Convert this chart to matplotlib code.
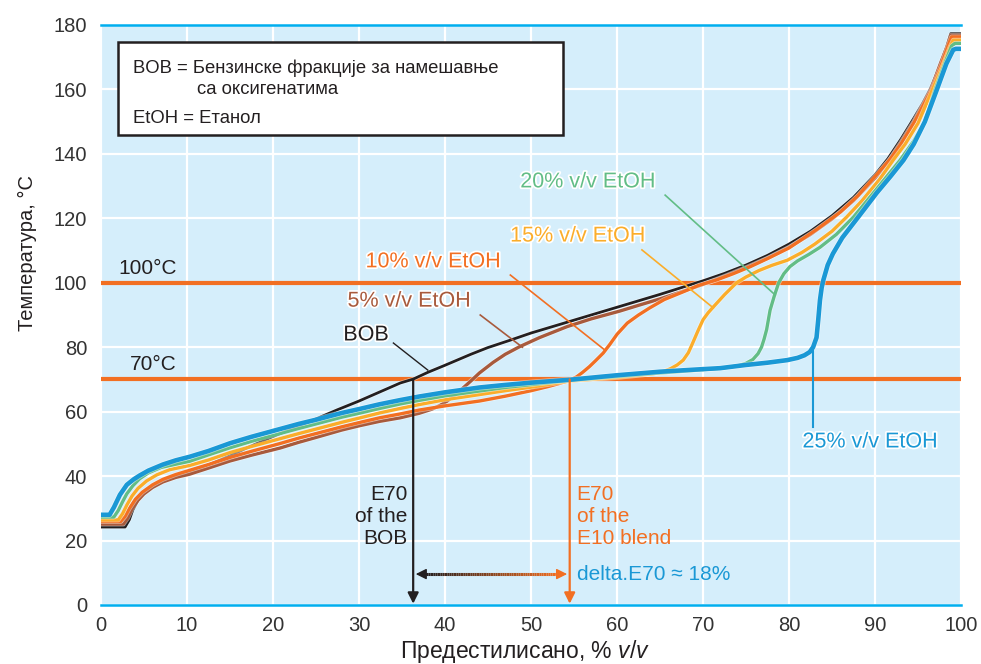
import matplotlib
matplotlib.use("Agg")
import matplotlib.pyplot as plt
import matplotlib.patheffects as pe
import numpy as np
from matplotlib.collections import LineCollection
from matplotlib.colors import to_rgb
from matplotlib.patches import Rectangle

plt.rcParams['font.family'] = ['Liberation Sans', 'DejaVu Sans']
plt.rcParams['mathtext.fontset'] = 'custom'
plt.rcParams['mathtext.it'] = 'Liberation Sans:italic'
plt.rcParams['mathtext.rm'] = 'Liberation Sans'

# distillation curves: % evaporated (x) vs temperature in °C (t)
bob_x = [0, 2.8, 3.3, 3.7, 4.3, 4.9, 6, 7.2, 8.7, 10.3, 12.5, 15, 17, 20, 22.5, 24.7, 27.5, 30, 32.4, 34.8,
         36.3, 38, 40, 43, 45, 47.6, 50, 52.5, 55, 57.5, 60, 62.5, 65, 67.5, 70, 72.5, 75, 77.5, 80, 82.5,
         85, 87.5, 90, 91.5, 93, 94.5, 95.5, 96.4, 97.5, 98.3, 98.8, 100]
bob_t = [24.2, 24.2, 26.5, 29.5, 32.5, 34.7, 37, 38.4, 39.8, 41.2, 43.5, 46.3, 48.8, 52.3, 55, 57.4, 60.6, 63.3, 66.1, 68.9,
         70.1, 72.2, 74.4, 77.8, 79.9, 82.2, 84.4, 86.4, 88.4, 90.4, 92.4, 94.4, 96.4, 98.5, 100.6, 102.9, 105.5, 108.5, 112, 116,
         120.8, 126.5, 133.5, 138.5, 144.5, 151, 155.5, 160, 167, 173, 177.3, 177.3]

e5_x = [0, 2.6, 3.1, 3.6, 4.3, 5, 6, 7.2, 8.7, 10.3, 12.5, 15, 17.5, 20.8, 23, 25, 28, 30, 32.4, 34.8,
        37, 38.5, 39.4, 40.2, 41, 41.7, 43, 44, 45.6, 47, 48.7, 51, 54.2, 57, 60.3, 62.5, 65, 67.5, 70, 72.5,
        75, 77.5, 80, 82.5, 85, 87.5, 90, 91.6, 93, 94.5, 95.5, 96.5, 97.6, 98.4, 98.8, 100]
e5_t = [25.1, 25.1, 27, 29.8, 32.5, 34.5, 36.5, 38.2, 39.6, 40.6, 42.5, 44.7, 46.5, 48.7, 50.5, 52, 54.3, 55.6, 57, 58.1,
        59.5, 60.8, 61.9, 63.2, 64.8, 66.4, 69.5, 72, 75.3, 77.8, 80.2, 83, 86.4, 88.8, 91.2, 93, 95, 97.2, 99.5, 102,
        104.7, 107.6, 111, 115, 119.8, 125.5, 132.5, 137.8, 143.5, 150, 155, 160, 168, 173.5, 176.8, 176.8]

e10_x = [0, 2.3, 2.8, 3.3, 4, 4.8, 6, 7.2, 8.7, 10.3, 12.5, 15, 17.5, 20.8, 23, 25, 28, 30, 32.4, 34.8,
         37, 40, 44, 47, 50, 52, 53.5, 54.5, 55.3, 56, 56.8, 57.5, 58.4, 59.2, 60, 61.2, 62.5, 63.8, 65.5, 67.7,
         69.5, 71.6, 73.5, 75.5, 77.5, 80, 83.2, 86, 88, 90, 91.8, 93, 94.5, 95.5, 96.6, 97.7, 98.5, 98.9, 100]
e10_t = [25.9, 25.9, 27.5, 30, 32.8, 35, 37.3, 39, 40.5, 41.8, 43.6, 45.8, 47.7, 50.1, 51.8, 53.2, 55.3, 56.6, 58.1, 59.3,
         60.5, 61.8, 63.3, 64.8, 66.5, 67.8, 68.9, 69.8, 70.8, 72.2, 74, 75.8, 78.2, 81, 84, 87.5, 90, 92.2, 94.8, 97.2,
         99.2, 100.9, 102.8, 105, 107.5, 110.8, 116.5, 122, 127, 133, 138.5, 143, 149.5, 154.5, 160, 167.5, 173.5, 176.3, 176.3]

e15_x = [0, 2.0, 2.5, 3.0, 3.6, 4.3, 5.3, 6.5, 8, 10.3, 12.5, 15, 17.5, 20.8, 23, 25, 28, 30, 32.4, 34.8,
         37, 40, 44, 47, 50, 54.5, 57, 60, 63, 64.5, 65.4, 66.2, 67, 67.7, 68.3, 68.8, 69.4, 70, 70.6, 71.2,
         72.5, 73.9, 75, 76.5, 78, 79.8, 81.5, 83, 85, 86.7, 88.5, 90.5, 92.1, 93.5, 95, 96.7, 97.9, 98.7, 99.1, 100]
e15_t = [26.4, 26.4, 28.3, 31, 33.8, 36.2, 38.5, 40.4, 42, 43.3, 45, 47.3, 49.2, 51.6, 53.2, 54.6, 56.7, 58, 59.6, 61,
         62.2, 63.7, 65.3, 66.5, 67.6, 69.5, 70, 70.6, 71.4, 71.9, 72.5, 73.3, 74.5, 76, 78.3, 81.3, 85, 88.5, 90.7, 92.5,
         96.3, 100, 101.8, 103.8, 105.4, 107, 109.4, 112, 116, 120.4, 125.5, 132, 138, 143, 149.5, 160, 167.5, 173, 175.3, 175.3]

e20_x = [0, 1.5, 2.0, 2.5, 3.0, 3.7, 4.5, 5.5, 7, 8.7, 10.3, 12.5, 15, 17.5, 20.8, 23, 25, 28, 30, 32.4,
         34.8, 37, 40, 44, 47, 50, 54.5, 60, 65, 70, 72.5, 74, 75, 75.8, 76.4, 76.8, 77.1, 77.4, 77.8, 78.3,
         78.8, 79.4, 80.1, 81, 82.3, 83.6, 85.5, 87.5, 90, 92.9, 94.5, 95.8, 97, 98.1, 98.9, 99.3, 100]
e20_t = [27.3, 27.3, 29.3, 32, 34.5, 37, 39.2, 41, 42.7, 43.7, 44.6, 46.6, 48.8, 50.8, 53.2, 54.8, 56.2, 58.3, 59.5, 61,
         62.4, 63.5, 64.9, 66.4, 67.5, 68.4, 69.7, 70.9, 72, 73, 73.6, 74.2, 75, 76.2, 78, 80, 82.5, 85.5, 91.5, 96,
         100, 102.8, 105, 106.8, 108.8, 111, 115, 120.4, 128.5, 138, 144, 150, 160, 168, 173.5, 174.3, 174.3]

e25_x = [0, 1.0, 1.5, 2.2, 3, 3.8, 4.5, 5.5, 7.2, 8.7, 10.3, 12.5, 15, 17.5, 20.8, 23, 25, 28, 30, 32.4,
         34.8, 37, 40, 44, 47, 50, 54.5, 58, 60, 65, 70, 72, 75, 77.5, 79.8, 81, 81.8, 82.4, 82.8, 83.2,
         83.4, 83.6, 83.8, 84, 84.5, 85.1, 86.2, 87.5, 88.8, 90.2, 91.8, 93.3, 94.5, 95.8, 97.2, 98.3, 99.1, 99.4, 100]
e25_t = [28, 28, 30.3, 34.2, 37.3, 39, 40.2, 41.7, 43.6, 44.9, 46, 47.8, 50.2, 52.2, 54.6, 56.2, 57.5, 59.6, 60.8, 62.3,
         63.6, 64.7, 66, 67.5, 68.3, 69, 69.9, 70.8, 71.3, 72.4, 73.2, 73.5, 74.5, 75.2, 76, 76.7, 77.5, 78.5, 80, 83,
         88.5, 94.6, 98.5, 100.9, 105.5, 109, 114, 118.5, 123, 127.9, 133, 138, 143, 150, 160, 168, 172.3, 172.6, 172.6]

ref_temps = [100, 70]
e70_bob = 36.3
e70_e10 = 54.5

BLACK = '#231f20'
BROWN = '#a85a3c'
ORANGE = '#f26f22'
YELLOW = '#fbad2a'
GREEN = '#62bd86'
BLUE = '#1a98d5'
TEXT = '#231f20'

fig = plt.figure(figsize=(9.81, 6.64), dpi=100)
ax = fig.add_axes([101 / 981, 59 / 664, 860 / 981, 580 / 664])
ax.set_facecolor('#d5eefb')
ax.set_xlim(0, 100)
ax.set_ylim(0, 180)
ax.set_xticks(range(0, 101, 10))
ax.set_yticks(range(0, 181, 20))
ax.grid(True, color='white', lw=1.6)
ax.set_axisbelow(True)
ax.tick_params(length=0, labelsize=14.5, labelcolor='#333333')
ax.tick_params(axis='x', pad=8)
ax.tick_params(axis='y', pad=10)
for s in ['left', 'right']:
    ax.spines[s].set_visible(False)
for s in ['top', 'bottom']:
    ax.spines[s].set_color('#00aeef')
    ax.spines[s].set_linewidth(1.8)

ax.set_xlabel('Предестилисано, % $\\mathit{v/v}$', fontsize=16.5, color=TEXT, va='center')
ax.xaxis.set_label_coords(0.493, -0.081)
ax.set_ylabel('Температура, °C', fontsize=14.5, color=TEXT, va='center')
ax.yaxis.set_label_coords(-0.085, 0.607)

# reference temperatures
for t in ref_temps:
    ax.axhline(t, color=ORANGE, lw=3, zorder=2)
ax.text(8.8, 104.4, '100°C', fontsize=15, color=TEXT, va='center', ha='right')
ax.text(8.8, 74.5, '70°C', fontsize=15, color=TEXT, va='center', ha='right')

# distillation curves
curves = [(bob_x, bob_t, BLACK, 2.0), (e5_x, e5_t, BROWN, 2.4), (e10_x, e10_t, ORANGE, 2.4),
          (e15_x, e15_t, YELLOW, 2.4), (e20_x, e20_t, GREEN, 2.4), (e25_x, e25_t, BLUE, 3.3)]
for i, (x, t, c, lw) in enumerate(curves):
    ax.plot(x, t, color=c, lw=lw, zorder=3 + i, solid_joinstyle='round', solid_capstyle='butt',
            path_effects=[pe.Stroke(linewidth=lw + 1.0, foreground='white', alpha=0.5), pe.Normal()])

halo = [pe.withStroke(linewidth=2.5, foreground='white')]
lab = dict(fontsize=15.5, va='center', ha='center', path_effects=halo, zorder=12)
ax.text(30.8, 83.8, 'BOB', color=BLACK, **lab)
ax.plot([34.0, 38.0], [81.3, 72.9], color=BLACK, lw=1, zorder=11)
ax.text(35.8, 94.3, '5% v/v EtOH', color=BROWN, **lab)
ax.plot([44.1, 49.0], [90.0, 80.0], color=BROWN, lw=1.2, zorder=11)
ax.text(38.6, 106.5, '10% v/v EtOH', color=ORANGE, **lab)
ax.plot([47.6, 58.6], [102.4, 79.1], color=ORANGE, lw=1.2, zorder=11)
ax.text(55.4, 114.5, '15% v/v EtOH', color=YELLOW, **lab)
ax.plot([62.9, 71.2], [110.2, 92.2], color=YELLOW, lw=1.2, zorder=11)
ax.text(56.6, 131.3, '20% v/v EtOH', color=GREEN, **lab)
ax.plot([65.6, 78.4], [127.2, 96.2], color=GREEN, lw=1.2, zorder=11)
ax.text(89.4, 50.6, '25% v/v EtOH', color=BLUE, **lab)
ax.plot([82.8, 82.8], [79.8, 55.2], color=BLUE, lw=1.5, zorder=11)

# legend box
ax.add_patch(Rectangle((2.0, 145.9), 51.7, 28.8, facecolor='white', edgecolor=BLACK, lw=1.8, zorder=10))
box = dict(fontsize=13.3, color=TEXT, va='center', zorder=11)
ax.text(3.7, 166.7, 'BOB = Бензинске фракције за намешавње', **box)
ax.text(11.2, 159.9, 'са оксигенатима', **box)
ax.text(3.7, 151.1, 'EtOH = Етанол', **box)

# E70 arrows
for xv, c in [(e70_bob, BLACK), (e70_e10, ORANGE)]:
    ax.annotate('', xy=(xv, 0.4), xytext=(xv, 70), zorder=9,
                arrowprops=dict(arrowstyle='-|>', color=c, lw=1.6, mutation_scale=16,
                                shrinkA=0, shrinkB=0))

ya = 9.6
xs = np.linspace(e70_bob + 1.2, e70_e10 - 1.2, 60)
segs = [[(xs[i], ya), (xs[i + 1], ya)] for i in range(len(xs) - 1)]
c0, c1 = np.array(to_rgb(BLACK)), np.array(to_rgb(ORANGE))
cols = [c0 + (c1 - c0) * f for f in np.linspace(0, 1, len(segs))]
ax.add_collection(LineCollection(segs, colors=cols, lw=2.2, zorder=9))
ax.annotate('', xy=(e70_bob + 0.3, ya), xytext=(e70_bob + 1.6, ya), zorder=9,
            arrowprops=dict(arrowstyle='-|>', color=BLACK, lw=1, mutation_scale=16, shrinkA=0, shrinkB=0))
ax.annotate('', xy=(e70_e10 - 0.3, ya), xytext=(e70_e10 - 1.6, ya), zorder=9,
            arrowprops=dict(arrowstyle='-|>', color=ORANGE, lw=1, mutation_scale=16, shrinkA=0, shrinkB=0))

ax.text(e70_bob - 0.7, 27.6, 'E70\nof the\nBOB', color=TEXT, fontsize=15, ha='right', va='center',
        linespacing=1.2, zorder=12)
ax.text(e70_e10 + 0.8, 27.6, 'E70\nof the\nE10 blend', color=ORANGE, fontsize=15, ha='left', va='center',
        linespacing=1.2, zorder=12)
ax.text(e70_e10 + 0.8, ya, 'delta.E70 ≈ 18%', color=BLUE, fontsize=15, ha='left', va='center', zorder=12)

fig.savefig('out.png', dpi=100)
